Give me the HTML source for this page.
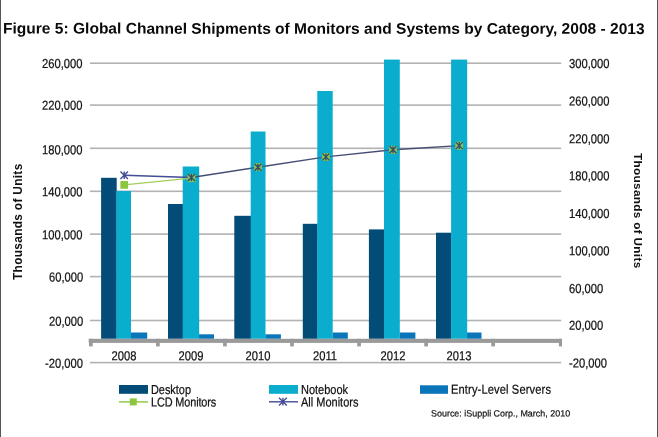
<!DOCTYPE html>
<html><head><meta charset="utf-8"><title>Figure 5</title>
<style>
html,body{margin:0;padding:0;background:#fff;}
body{width:658px;height:437px;position:relative;overflow:hidden;font-family:"Liberation Sans",sans-serif;color:#111;}
.t{position:absolute;white-space:nowrap;line-height:1.24;color:#111;transform:scaleY(1.16);transform-origin:50% 50%;-webkit-text-stroke:0.2px #111;}
#wrap{position:absolute;left:0;top:0;width:658px;height:437px;will-change:transform;transform:translateZ(0);}
#bl{position:absolute;left:0;top:0;width:1px;height:437px;background:#555;}
#br{position:absolute;left:656.7px;top:0;width:1.3px;height:437px;background:#555;}
#title{position:absolute;left:3px;top:20.7px;font-size:15.55px;line-height:1;font-weight:bold;white-space:nowrap;color:#0a0a0a;transform:translateY(-0.45px) rotate(0.03deg) scaleY(0.985);transform-origin:0 13.2px;}
.vt{position:absolute;font-weight:bold;font-size:12.5px;white-space:nowrap;color:#111;transform-origin:0 0;line-height:1}
</style></head><body>
<div id="wrap"><div id="bl"></div><div id="br"></div>
<div id="title">Figure 5: Global Channel Shipments of Monitors and Systems by Category, 2008 - 2013</div>
<svg width="658" height="437" viewBox="0 0 658 437" style="position:absolute;left:0;top:0">
<rect x="90" y="62.40" width="471.2" height="1.6" fill="#b2b2b2"/>
<rect x="90" y="104.30" width="471.2" height="1.6" fill="#b2b2b2"/>
<rect x="90" y="147.50" width="471.2" height="1.6" fill="#b2b2b2"/>
<rect x="90" y="190.50" width="471.2" height="1.6" fill="#b2b2b2"/>
<rect x="90" y="233.30" width="471.2" height="1.6" fill="#b2b2b2"/>
<rect x="90" y="275.80" width="471.2" height="1.6" fill="#b2b2b2"/>
<rect x="90" y="319.70" width="471.2" height="1.6" fill="#b2b2b2"/>
<rect x="90" y="361.80" width="471.2" height="1.6" fill="#b2b2b2"/>
<rect x="101.10" y="177.80" width="15.60" height="161.00" fill="#034c78"/>
<rect x="130.80" y="332.50" width="16.40" height="6.30" fill="#0a75b9"/>
<rect x="116.40" y="191.00" width="14.60" height="147.80" fill="#0badcf"/>
<rect x="168.00" y="204.00" width="15.00" height="134.80" fill="#034c78"/>
<rect x="199.00" y="334.30" width="15.00" height="4.50" fill="#0a75b9"/>
<rect x="182.70" y="166.50" width="16.50" height="172.30" fill="#0badcf"/>
<rect x="234.30" y="215.80" width="16.70" height="123.00" fill="#034c78"/>
<rect x="265.30" y="334.30" width="15.60" height="4.50" fill="#0a75b9"/>
<rect x="250.70" y="131.50" width="14.80" height="207.30" fill="#0badcf"/>
<rect x="302.80" y="223.80" width="14.80" height="115.00" fill="#034c78"/>
<rect x="332.50" y="332.50" width="15.30" height="6.30" fill="#0a75b9"/>
<rect x="317.30" y="91.00" width="15.40" height="247.80" fill="#0badcf"/>
<rect x="368.90" y="229.40" width="15.40" height="109.40" fill="#034c78"/>
<rect x="399.60" y="332.50" width="15.80" height="6.30" fill="#0a75b9"/>
<rect x="384.00" y="59.60" width="15.80" height="279.20" fill="#0badcf"/>
<rect x="436.00" y="232.70" width="15.40" height="106.10" fill="#034c78"/>
<rect x="467.00" y="332.50" width="14.50" height="6.30" fill="#0a75b9"/>
<rect x="451.10" y="59.60" width="16.10" height="279.20" fill="#0badcf"/>
<rect x="88.7" y="338.8" width="473.3" height="4.1" fill="#9a9a9a"/>
<rect x="89.00" y="338.8" width="3.7" height="7.6" fill="#9a9a9a"/>
<rect x="156.05" y="338.8" width="3.7" height="7.6" fill="#9a9a9a"/>
<rect x="223.10" y="338.8" width="3.7" height="7.6" fill="#9a9a9a"/>
<rect x="290.15" y="338.8" width="3.7" height="7.6" fill="#9a9a9a"/>
<rect x="357.20" y="338.8" width="3.7" height="7.6" fill="#9a9a9a"/>
<rect x="424.25" y="338.8" width="3.7" height="7.6" fill="#9a9a9a"/>
<rect x="491.30" y="338.8" width="3.7" height="7.6" fill="#9a9a9a"/>
<rect x="558.90" y="338.8" width="3.1" height="7.6" fill="#9a9a9a"/>
<polyline points="124.20,184.90 191.40,178.20" fill="none" stroke="#a2cf58" stroke-width="1.25"/>
<rect x="120.35" y="181.05" width="7.7" height="7.7" fill="#8cc63f"/>
<rect x="187.55" y="174.35" width="7.7" height="7.7" fill="#8cc63f"/>
<rect x="254.15" y="163.35" width="7.7" height="7.7" fill="#8cc63f"/>
<rect x="322.05" y="153.05" width="7.7" height="7.7" fill="#8cc63f"/>
<rect x="389.15" y="145.95" width="7.7" height="7.7" fill="#8cc63f"/>
<rect x="455.35" y="141.75" width="7.7" height="7.7" fill="#8cc63f"/>
<polyline points="124.20,175.30 191.40,177.50" fill="none" stroke="#434c94" stroke-width="1.4"/>
<polyline points="191.40,177.50 258.00,167.20 325.90,156.90 393.00,149.80 459.20,145.60" fill="none" stroke="#444e74" stroke-width="1.45"/>
<rect x="250.70" y="161.20" width="14.80" height="12" fill="#0badcf" opacity="0.3"/>
<rect x="317.30" y="150.90" width="15.40" height="12" fill="#0badcf" opacity="0.3"/>
<rect x="384.00" y="143.80" width="15.80" height="12" fill="#0badcf" opacity="0.3"/>
<rect x="451.10" y="139.60" width="16.10" height="12" fill="#0badcf" opacity="0.3"/>
<rect x="187.55" y="174.35" width="7.7" height="7.7" fill="#86c058"/>
<rect x="254.15" y="163.35" width="7.7" height="7.7" fill="#86c058"/>
<rect x="322.05" y="153.05" width="7.7" height="7.7" fill="#86c058"/>
<rect x="389.15" y="145.95" width="7.7" height="7.7" fill="#86c058"/>
<rect x="455.35" y="141.75" width="7.7" height="7.7" fill="#86c058"/>
<path d="M120.40 171.50L128.00 179.10M120.40 179.10L128.00 171.50M124.20 171.50L124.20 179.10" stroke="#434c94" stroke-width="1.35" fill="none"/>
<path d="M187.90 174.00L194.90 181.00M187.90 181.00L194.90 174.00M191.40 174.00L191.40 181.00" stroke="#324a68" stroke-width="1.25" fill="none"/>
<path d="M254.50 163.70L261.50 170.70M254.50 170.70L261.50 163.70M258.00 163.70L258.00 170.70" stroke="#324a68" stroke-width="1.25" fill="none"/>
<path d="M322.40 153.40L329.40 160.40M322.40 160.40L329.40 153.40M325.90 153.40L325.90 160.40" stroke="#324a68" stroke-width="1.25" fill="none"/>
<path d="M389.50 146.30L396.50 153.30M389.50 153.30L396.50 146.30M393.00 146.30L393.00 153.30" stroke="#324a68" stroke-width="1.25" fill="none"/>
<path d="M455.70 142.10L462.70 149.10M455.70 149.10L462.70 142.10M459.20 142.10L459.20 149.10" stroke="#324a68" stroke-width="1.25" fill="none"/>
<rect x="119" y="385" width="29" height="8.8" fill="#034c78"/>
<rect x="269" y="385" width="29" height="8.8" fill="#0badcf"/>
<rect x="420" y="385.3" width="28" height="8.5" fill="#0a75b9"/>
<rect x="119" y="401.2" width="29" height="1.4" fill="#8cc63f"/><rect x="129.80" y="398.40" width="7.0" height="7.0" fill="#8cc63f"/>
<rect x="269" y="401.1" width="29" height="1.4" fill="#434c94"/><path d="M279.00 397.80L286.80 405.60M279.00 405.60L286.80 397.80M282.90 397.80L282.90 405.60" stroke="#434c94" stroke-width="1.35" fill="none"/>
</svg>
<div class="t" style="right:575.2px;top:57px;font-size:11.2px;transform:translateY(0.43px) rotate(0.03deg) scaleY(1.16);">260,000</div>
<div class="t" style="right:575.2px;top:99px;font-size:11.2px;transform:translateY(0.33px) rotate(0.03deg) scaleY(1.16);">220,000</div>
<div class="t" style="right:575.2px;top:143px;font-size:11.2px;transform:translateY(0.73px) rotate(0.03deg) scaleY(1.16);">180,000</div>
<div class="t" style="right:575.2px;top:185px;font-size:11.2px;transform:translateY(0.83px) rotate(0.03deg) scaleY(1.16);">140,000</div>
<div class="t" style="right:575.2px;top:228px;font-size:11.2px;transform:translateY(0.83px) rotate(0.03deg) scaleY(1.16);">100,000</div>
<div class="t" style="right:575.2px;top:270px;font-size:11.2px;transform:translateY(0.93px) rotate(0.03deg) scaleY(1.16);">60,000</div>
<div class="t" style="right:575.2px;top:315px;font-size:11.2px;transform:translateY(0.23px) rotate(0.03deg) scaleY(1.16);">20,000</div>
<div class="t" style="right:575.2px;top:357px;font-size:11.2px;transform:translateY(0.33px) rotate(0.03deg) scaleY(1.16);">-20,000</div>
<div class="t" style="left:569.0px;top:57px;font-size:11.2px;transform:translateY(0.43px) rotate(0.03deg) scaleY(1.16);">300,000</div>
<div class="t" style="left:569.0px;top:94px;font-size:11.2px;transform:translateY(0.93px) rotate(0.03deg) scaleY(1.16);">260,000</div>
<div class="t" style="left:569.0px;top:132px;font-size:11.2px;transform:translateY(0.83px) rotate(0.03deg) scaleY(1.16);">220,000</div>
<div class="t" style="left:569.0px;top:169px;font-size:11.2px;transform:translateY(0.83px) rotate(0.03deg) scaleY(1.16);">180,000</div>
<div class="t" style="left:569.0px;top:207px;font-size:11.2px;transform:translateY(0.43px) rotate(0.03deg) scaleY(1.16);">140,000</div>
<div class="t" style="left:569.0px;top:244px;font-size:11.2px;transform:translateY(0.83px) rotate(0.03deg) scaleY(1.16);">100,000</div>
<div class="t" style="left:569.0px;top:282px;font-size:11.2px;transform:translateY(0.43px) rotate(0.03deg) scaleY(1.16);">60,000</div>
<div class="t" style="left:569.0px;top:319px;font-size:11.2px;transform:translateY(0.33px) rotate(0.03deg) scaleY(1.16);">20,000</div>
<div class="t" style="left:569.0px;top:357px;font-size:11.2px;transform:translateY(0.03px) rotate(0.03deg) scaleY(1.16);">-20,000</div>
<div class="t" style="left:73.7px;width:100px;text-align:center;top:349px;font-size:11.2px;transform:translateY(0.73px) rotate(0.03deg) scaleY(1.16);">2008</div>
<div class="t" style="left:140.9px;width:100px;text-align:center;top:349px;font-size:11.2px;transform:translateY(0.73px) rotate(0.03deg) scaleY(1.16);">2009</div>
<div class="t" style="left:207.5px;width:100px;text-align:center;top:349px;font-size:11.2px;transform:translateY(0.73px) rotate(0.03deg) scaleY(1.16);">2010</div>
<div class="t" style="left:275.4px;width:100px;text-align:center;top:349px;font-size:11.2px;transform:translateY(0.73px) rotate(0.03deg) scaleY(1.16);">2011</div>
<div class="t" style="left:342.5px;width:100px;text-align:center;top:349px;font-size:11.2px;transform:translateY(0.73px) rotate(0.03deg) scaleY(1.16);">2012</div>
<div class="t" style="left:408.7px;width:100px;text-align:center;top:349px;font-size:11.2px;transform:translateY(0.73px) rotate(0.03deg) scaleY(1.16);">2013</div>
<div class="t" style="left:151.2px;top:383px;font-size:10.9px;transform:translateY(0.41px) rotate(0.03deg) scaleY(1.19);">Desktop</div>
<div class="t" style="left:151.2px;top:395px;font-size:10.9px;transform:translateY(0.91px) rotate(0.03deg) scaleY(1.19);letter-spacing:-0.12px;">LCD Monitors</div>
<div class="t" style="left:300.7px;top:383px;font-size:11px;transform:translateY(0.35px) rotate(0.03deg) scaleY(1.18);">Notebook</div>
<div class="t" style="left:300.7px;top:395px;font-size:11px;transform:translateY(0.85px) rotate(0.03deg) scaleY(1.18);">All Monitors</div>
<div class="t" style="left:451.4px;top:383px;font-size:11.1px;transform:translateY(0.29px) rotate(0.03deg) scaleY(1.17);letter-spacing:0.14px;">Entry-Level Servers</div>
<div class="t" style="left:430.8px;top:408px;font-size:8.95px;transform:translateY(0.42px) rotate(0.03deg) scaleY(1.02);">Source: iSuppli Corp., March, 2010</div>
<div class="vt" id="vl" style="left:12.5px;top:280.2px;transform:rotate(-90deg);font-size:11.9px;letter-spacing:0.31px">Thousands of Units</div>
<div class="vt" id="vr" style="left:642.6px;top:153.0px;transform:rotate(90deg);font-size:11.8px;letter-spacing:0.3px">Thousands of Units</div>
</div></body></html>
